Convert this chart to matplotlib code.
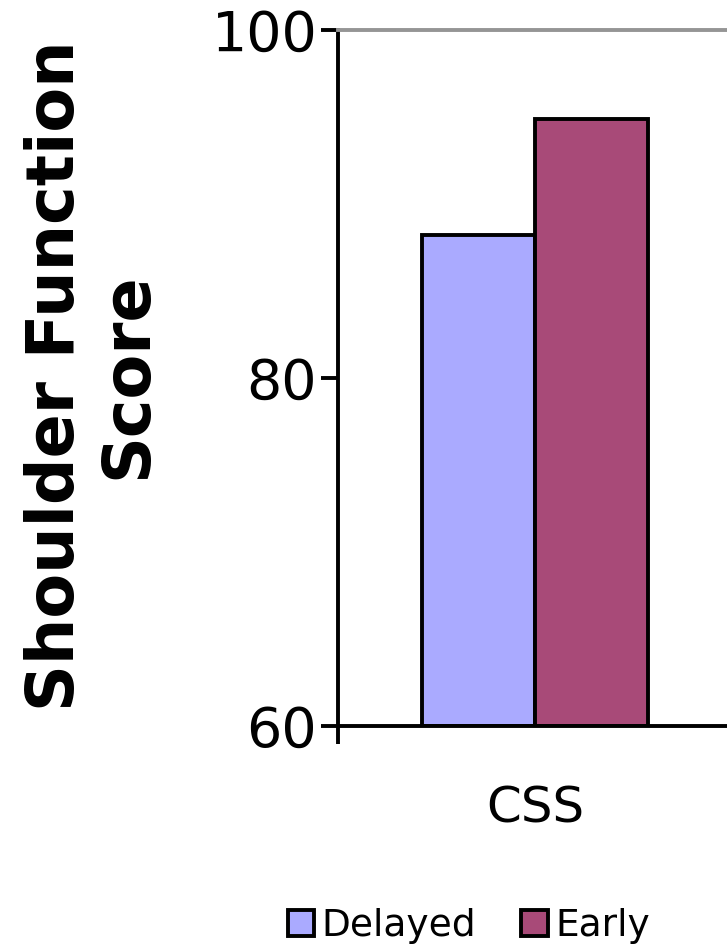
import matplotlib.pyplot as plt
from matplotlib.patches import Patch

# scores by group
category = 'CSS'
groups = ['Delayed', 'Early']
scores = [88.2, 94.9]
colors = ['#AAAAFF', '#A84A78']
yticks = [60, 80, 100]

fig = plt.figure(figsize=(7.27, 9.5), dpi=100)
ax = fig.add_axes([0.465, 0.2358, 0.542, 0.7326])

width = 0.287
offsets = [-width / 2, width / 2]
for off, val, col in zip(offsets, scores, colors):
    ax.bar(off, val - 60, width=width, bottom=60, color=col,
           edgecolor='black', linewidth=2.8)

ax.set_xlim(-0.5, 0.5)
ax.set_ylim(60, 100)
ax.set_yticks(yticks)
ax.set_yticklabels([str(t) for t in yticks], fontsize=40)
ax.tick_params(axis='y', length=12, width=2.8, pad=3)

ax.set_xticks([0])
ax.set_xticklabels([category], fontsize=36)
ax.tick_params(axis='x', length=0, pad=42)
ax.set_xticks([-0.5], minor=True)
ax.tick_params(axis='x', which='minor', length=13, width=2.8)

for side in ['left', 'bottom']:
    ax.spines[side].set_linewidth(2.8)
ax.spines['top'].set_color('#959595')
ax.spines['top'].set_linewidth(2.8)
ax.spines['right'].set_visible(False)

fig.text(0.127, 0.605, 'Shoulder Function\nScore', rotation=90,
         fontsize=47, fontweight='bold', ha='center', va='center',
         multialignment='center', linespacing=1.17)

handles = [Patch(facecolor=c, edgecolor='black', linewidth=2.8, label=g)
           for g, c in zip(groups, colors)]
fig.legend(handles=handles, loc='center', bbox_to_anchor=(0.645, 0.025),
           ncol=2, frameon=False, fontsize=27, handlelength=0.7,
           handleheight=0.7, handletextpad=0.2, columnspacing=1.2)

fig.savefig('out.png', dpi=100)
